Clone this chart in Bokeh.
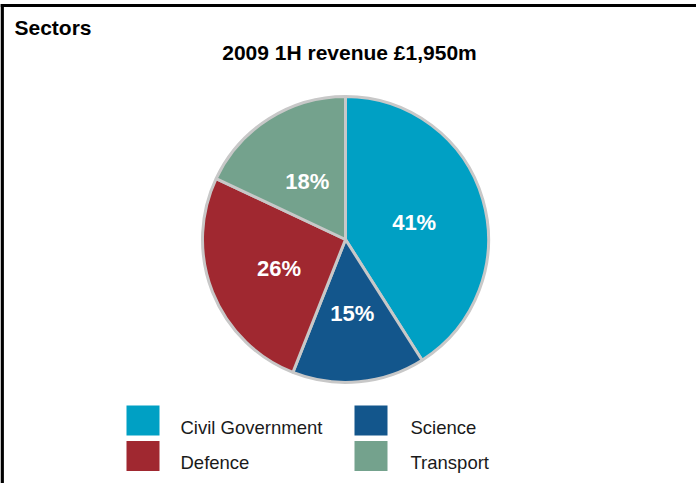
import math
from bokeh.plotting import figure
from bokeh.models import Range1d, ColumnDataSource
from bokeh.core.properties import value
from bokeh.embed import file_html
from bokeh.resources import INLINE

# ---- data ----
sectors = ["Civil Government", "Science", "Defence", "Transport"]
shares = [41, 15, 26, 18]
colors = ["#00A0C4", "#13568C", "#A02830", "#74A28D"]
title_text = "Sectors"
subtitle_text = "2009 1H revenue \u00a31,950m"

W, H = 696, 483
FONT = "Liberation Sans"

p = figure(width=W, height=H, output_backend="svg", toolbar_location=None,
           x_range=Range1d(0, W), y_range=Range1d(0, H), min_border=0)
p.axis.visible = False
p.grid.visible = False
p.outline_line_color = None
p.background_fill_color = "white"
p.border_fill_color = "white"

def Y(yref):
    return H - yref

def X(xref):
    return xref

# frame (top and left edges visible, as in reference)
p.line([0, W], [Y(5), Y(5)], line_color="black", line_width=3)
p.line([1.7, 1.7], [0, Y(3.5)], line_color="black", line_width=3.4)

# pie
cx, cy, r = X(345), Y(239), 143
total = float(sum(shares))
starts, ends, lx, ly, labels = [], [], [], [], []
cum = 0.0
for s in shares:
    a0 = cum / total * 360.0
    a1 = (cum + s) / total * 360.0
    starts.append(math.radians(90 - a1))
    ends.append(math.radians(90 - a0))
    mid = math.radians(90 - (a0 + a1) / 2)
    lx.append(cx + 0.5 * r * math.cos(mid))
    ly.append(cy + 0.5 * r * math.sin(mid) - 2.5)
    labels.append(f"{s}%")
    cum += s

src = ColumnDataSource(dict(start=starts, end=ends, color=colors, lx=lx, ly=ly, label=labels))
p.wedge(x=cx, y=cy, radius=r, radius_units="screen", start_angle="start", end_angle="end",
        direction="anticlock", fill_color="color", line_color="#C8C8C8", line_width=3, source=src)
p.text(x="lx", y="ly", text="label", source=src, text_color="white",
       text_font=value(FONT), text_font_style="bold", text_font_size="22px",
       text_align="center", text_baseline="middle")

# titles
p.text(x=[X(14)], y=[Y(27)], text=[title_text], text_font=value(FONT), text_font_style="bold",
       text_font_size="21px", text_align="left", text_baseline="middle", text_color="black")
p.text(x=[X(349)], y=[Y(52)], text=[subtitle_text], text_font=value(FONT), text_font_style="bold",
       text_font_size="21px", text_align="center", text_baseline="middle", text_color="black")

# legend (2 x 2)
sq_x = [X(142.5), X(370.5), X(142.5), X(370.5)]
sq_y = [Y(420), Y(420), Y(455.5), Y(455.5)]
tx = [X(180), X(410), X(180), X(410)]
ty = [Y(427), Y(427), Y(462), Y(462)]
p.rect(x=sq_x, y=sq_y, width=33, height=30, width_units="screen", height_units="screen",
       fill_color=colors, line_color=None)
p.text(x=tx, y=ty, text=sectors, text_font=value(FONT), text_font_size="18.5px",
       text_align="left", text_baseline="middle", text_color="#1a1a1a")

open("out.html", "w").write(file_html(p, INLINE))
